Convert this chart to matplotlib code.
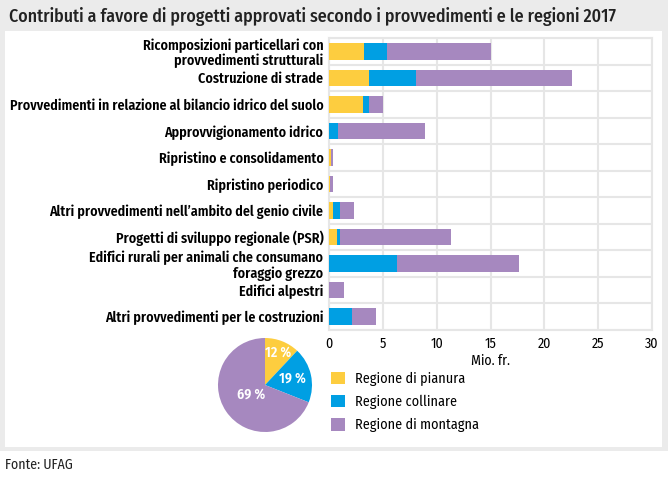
import matplotlib
matplotlib.use("Agg")
import matplotlib.pyplot as plt
from matplotlib.patches import Rectangle, Patch
import numpy as np

plt.rcParams["font.family"] = ["Fira Sans Condensed", "Roboto Condensed", "PT Sans Narrow",
                               "Liberation Sans Narrow", "DejaVu Sans"]

# data (Mio. fr.)
categories = [
    "Ricomposizioni particellari con\nprovvedimenti strutturali",
    "Costruzione di strade",
    "Provvedimenti in relazione al bilancio idrico del suolo",
    "Approvvigionamento idrico",
    "Ripristino e consolidamento",
    "Ripristino periodico",
    "Altri provvedimenti nell\u2019ambito del genio civile",
    "Progetti di sviluppo regionale (PSR)",
    "Edifici rurali per animali che consumano\nforaggio grezzo",
    "Edifici alpestri",
    "Altri provvedimenti per le costruzioni",
]
pianura = [3.27, 3.67, 3.18, 0.0, 0.20, 0.05, 0.40, 0.77, 0.0, 0.0, 0.0]
collinare = [2.16, 4.42, 0.52, 0.80, 0.02, 0.0, 0.59, 0.22, 6.30, 0.0, 2.13]
montagna = [9.63, 14.51, 1.27, 8.12, 0.14, 0.28, 1.36, 10.37, 11.39, 1.36, 2.22]
series_names = ["Regione di pianura", "Regione collinare", "Regione di montagna"]
pie_shares = [12, 19, 69]
colors = ["#fdcd3f", "#009fe3", "#a688bf"]

fig = plt.figure(figsize=(6.68, 4.78), dpi=100)
fig.patch.set_facecolor("white")

# gray frame + white panel
fig.patches.append(Rectangle((0, 1 - 451 / 478), 1, 451 / 478, transform=fig.transFigure,
                             facecolor="#ebebeb", edgecolor="none", zorder=-3))
fig.patches.append(Rectangle((5 / 668, 1 - 447 / 478), 657 / 668, 416 / 478, transform=fig.transFigure,
                             facecolor="white", edgecolor="none", zorder=-2))

fig.text(9 / 668, 1 - 16 / 478, "Contributi a favore di progetti approvati secondo i provvedimenti e le regioni 2017",
         fontsize=12.9, va="center", ha="left", color="#222222", fontweight="medium")
fig.text(5 / 668, 1 - 465 / 478, "Fonte: UFAG", fontsize=10, va="center", ha="left", color="#222222")

ax = fig.add_axes([329 / 668, 1 - 330 / 478, 323 / 668, 292 / 478])
y = np.arange(len(categories))
left = np.zeros(len(categories))
for vals, c, name in zip([pianura, collinare, montagna], colors, series_names):
    ax.barh(y, vals, left=left, height=0.62, color=c, edgecolor="none", label=name, zorder=3)
    left += np.array(vals)

ax.set_xlim(0, 30)
ax.set_ylim(len(categories) - 0.5, -0.5)
ax.set_xticks(np.arange(0, 31, 5))
ax.set_yticks(y)
ax.set_yticklabels(categories, fontweight="semibold", fontsize=10.1, linespacing=1.1)
ax.set_yticks(np.arange(-0.5, len(categories), 1), minor=True)
ax.tick_params(axis="y", which="both", length=0, pad=4)
ax.tick_params(axis="x", length=0, labelsize=10, pad=5)
ax.grid(axis="x", color="#e6e6e6", linewidth=1.5, zorder=0)
ax.grid(axis="y", which="minor", color="#e6e6e6", linewidth=1.5, zorder=0)
for s in ax.spines.values():
    s.set_color("#e6e6e6")
    s.set_linewidth(1.5)
ax.set_xlabel("Mio. fr.", fontsize=10, labelpad=2)

# pie
pax = fig.add_axes([218 / 668, 1 - 432 / 478, 94 / 668, 94 / 478])
wedges, _ = pax.pie(pie_shares, colors=colors, startangle=90, counterclock=False,
                    wedgeprops=dict(edgecolor="none"))
pax.set_xlim(-1, 1)
pax.set_ylim(-1, 1)
pax.set_aspect("equal")
label_dist = [0.74, 0.6, 0.36]
for w, v, d in zip(wedges, pie_shares, label_dist):
    ang = np.deg2rad((w.theta1 + w.theta2) / 2)
    pax.text(d * np.cos(ang), d * np.sin(ang), f"{v} %", ha="center", va="center",
             color="white", fontweight="semibold", fontsize=10)

handles = [Patch(facecolor=c, edgecolor="none") for c in colors]
fig.legend(handles, series_names, loc="upper left", bbox_to_anchor=(325 / 668, 1 - 366 / 478),
           frameon=False, fontsize=10.2, handlelength=1.0, handleheight=1.0, labelspacing=0.62,
           handletextpad=0.7, borderaxespad=0)

fig.savefig("out.png", dpi=100)
